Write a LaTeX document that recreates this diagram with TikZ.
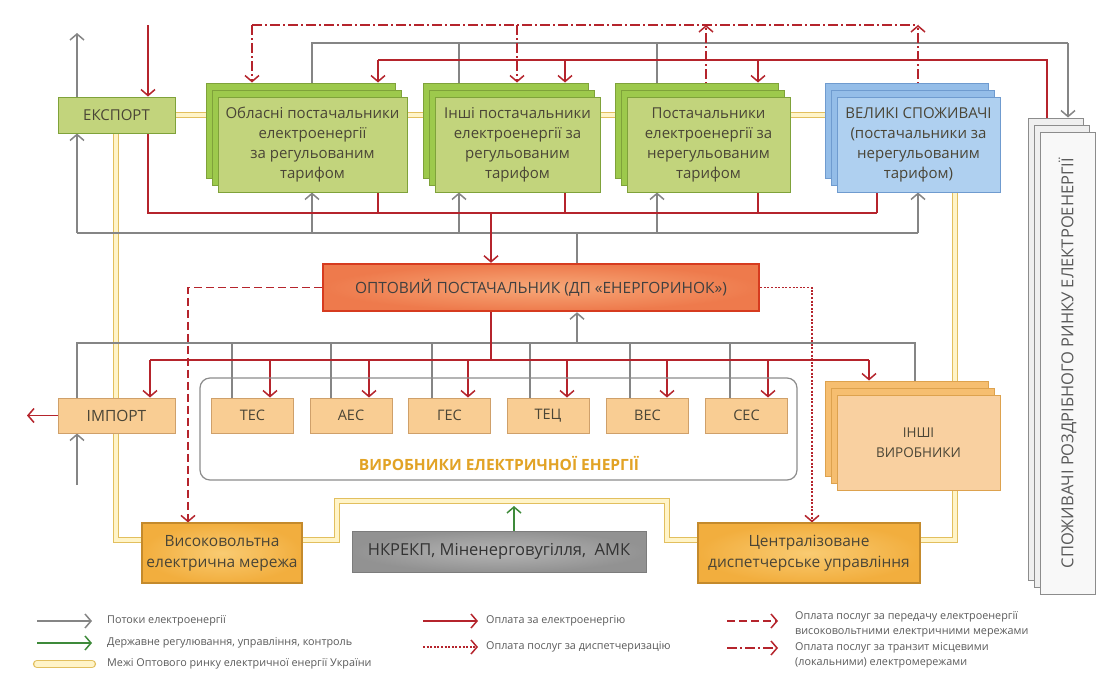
\documentclass[tikz,border=0pt]{standalone}
\usepackage{fontspec}
\setmainfont{Open Sans}
\usetikzlibrary{arrows.meta,calc,shadows,backgrounds}
\definecolor{flowc}{HTML}{858585}
\definecolor{payc}{HTML}{B5242C}
\definecolor{govc}{HTML}{3E8A3A}
\definecolor{gfront}{HTML}{C2D47C}
\definecolor{gback}{HTML}{9DC94C}
\definecolor{gdraw}{HTML}{7FA23A}
\definecolor{bfront}{HTML}{AFD0F0}
\definecolor{bback}{HTML}{94BDE8}
\definecolor{bdraw}{HTML}{6F9BCF}
\definecolor{ofill}{HTML}{F9CD93}
\definecolor{odraw}{HTML}{CFA06A}
\definecolor{ostfront}{HTML}{F9D0A0}
\definecolor{ostback}{HTML}{F6BE70}
\definecolor{ostdraw}{HTML}{DDA24E}
\definecolor{deepin}{HTML}{F9CB72}
\definecolor{deepout}{HTML}{F2AE3E}
\definecolor{deepdraw}{HTML}{C48A2C}
\definecolor{redin}{HTML}{F7A878}
\definecolor{redout}{HTML}{EE7A4C}
\definecolor{redd}{HTML}{D63B1F}
\definecolor{grayin}{HTML}{B5B5B5}
\definecolor{grayout}{HTML}{929292}
\definecolor{graydraw}{HTML}{7C7C7C}
\definecolor{wfront}{HTML}{F8F8F8}
\definecolor{wback}{HTML}{EFEFEF}
\definecolor{wdraw}{HTML}{8C8C8C}
\definecolor{bndo}{HTML}{E2BF5E}
\definecolor{bndi}{HTML}{FFF4C8}
\definecolor{txt}{HTML}{4A4536}
\definecolor{legtxt}{HTML}{5A5A5A}
\definecolor{gold}{HTML}{E2A325}
\tikzset{
  >={Straight Barb[length=6pt,width=14pt]},
  flow/.style={draw=flowc,line width=1.5pt},
  pay/.style={draw=payc,line width=1.5pt},
  gov/.style={draw=govc,line width=1.5pt},
  hvpay/.style={pay,dash pattern=on 8pt off 4pt},
  disppay/.style={pay,dash pattern=on 2pt off 1.6pt},
  tranpay/.style={pay,dash pattern=on 10pt off 3pt on 2pt off 3pt},
  bound/.style={draw=bndo,line width=1.2pt,double=bndi,double distance=3.6pt},
  boxtext/.style={text=txt,align=center,inner sep=2pt,font=\fontsize{15}{20}\selectfont},
  gbox/.style={boxtext,draw=gdraw,fill=gfront,line width=1pt},
  gstack/.style={gbox,
    copy shadow={shadow xshift=-12pt,shadow yshift=14pt,fill=gback,draw=gdraw,line width=1pt},
    copy shadow={shadow xshift=-6pt,shadow yshift=7pt,fill=gback,draw=gdraw,line width=1pt}},
  bstack/.style={boxtext,draw=bdraw,fill=bfront,line width=1pt,
    copy shadow={shadow xshift=-12pt,shadow yshift=14pt,fill=bback,draw=bdraw,line width=1pt},
    copy shadow={shadow xshift=-6pt,shadow yshift=7pt,fill=bback,draw=bdraw,line width=1pt}},
  ostack/.style={boxtext,draw=ostdraw,fill=ostfront,line width=1pt,
    copy shadow={shadow xshift=-12pt,shadow yshift=14pt,fill=ostback,draw=ostdraw,line width=1pt},
    copy shadow={shadow xshift=-6pt,shadow yshift=7pt,fill=ostback,draw=ostdraw,line width=1pt}},
  wstack/.style={draw=wdraw,fill=wfront,line width=1pt,
    copy shadow={shadow xshift=-12pt,shadow yshift=14pt,fill=wback,draw=wdraw,line width=1pt},
    copy shadow={shadow xshift=-6pt,shadow yshift=7pt,fill=wback,draw=wdraw,line width=1pt}},
  obox/.style={boxtext,draw=odraw,fill=ofill,line width=1pt,minimum width=82pt,minimum height=35pt,
    font=\fontsize{14.5}{18}\selectfont},
  optbox/.style={boxtext,text=black!75,draw=redd,line width=2.5pt,inner color=redin,outer color=redout,
    minimum width=436pt,minimum height=47pt,font=\fontsize{15.5}{18}\selectfont},
  deepbox/.style={boxtext,draw=deepdraw,line width=1.2pt,inner color=deepin,outer color=deepout,
    font=\fontsize{15.5}{21}\selectfont},
  govbox/.style={boxtext,text=black!80,draw=graydraw,line width=1pt,inner color=grayin,outer color=grayout,
    font=\fontsize{16.5}{20}\selectfont},
  legtext/.style={text=legtxt,align=left,inner sep=0pt,anchor=west,font=\fontsize{10.8}{15}\selectfont},
}
\begin{document}
\begin{tikzpicture}[x=1pt,y=-1pt]
\useasboundingbox (0,0) rectangle (1098,675);
\foreach \n/\v in {c27/27,c37/37,c77/77,c92/92,c116/116,c148/148,c150/150,c188/188,c232/232,c252/252,c270/270,c312/312,c331/331,c337/337,c369/369,c378/378,c423/423,c432/432,c459/459,c468/468,c478/478,c491/491,c514/514,c517/517,c530/530,c565/565,c567/567,c577/577,c630/630,c657/657,c667/667,c706/706,c727/727,c730/730,c758/758,c768/768,c778/778,c812/812,c869/869,c877/877,c915/915,c918/918,c955/955,c1047/1047,c1068/1068}
  \coordinate (\n) at (\v,0);
\foreach \n/\v in {y25/25,y33/33,y43/43,y60/60,y213/213,y233/233,y343/343,y360/360,y485/485,y501/501,y506/506,y540/540,y621/621,y643/643,y647/647,y648/648,y664/664}
  \coordinate (\n) at (0,\v);

% ---------------- nodes ----------------
\node[gbox,minimum width=117pt,minimum height=36pt] (exp) at (116.5,115) {ЕКСПОРТ};
\node[gstack,minimum width=189pt,minimum height=95pt] (obl) at (312.5,144.5)
  {Обласні постачальники\\електроенергії\\за регульованим\\тарифом};
\node[gstack,minimum width=165pt,minimum height=95pt] (insh) at (517.5,144.5)
  {Інші постачальники\\електроенергії за\\регульованим\\тарифом};
\node[gstack,minimum width=163pt,minimum height=95pt] (post) at (708.5,144.5)
  {Постачальники\\електроенергії за\\нерегульованим\\тарифом};
\node[bstack,minimum width=163pt,minimum height=95pt] (vel) at (918.5,144.5)
  {ВЕЛИКІ СПОЖИВАЧІ\\(постачальники за\\нерегульованим\\тарифом)};
\node[wstack,minimum width=55pt,minimum height=462pt] (spo) at (1067.5,363) {};
\node[boxtext,text=legtxt,rotate=90,font=\fontsize{16.5}{18}\selectfont] (spot) at (spo.center) {СПОЖИВАЧІ РОЗДРІБНОГО РИНКУ ЕЛЕКТРОЕНЕРГІЇ};

\node[optbox] (opt) at (541,287.5) {ОПТОВИЙ ПОСТАЧАЛЬНИК (ДП «ЕНЕРГОРИНОК»)};

\node[draw=wdraw,line width=1.2pt,rounded corners=10pt,minimum width=597pt,minimum height=102pt] (vyr) at (498.5,429) {};
\node[text=gold,font=\fontsize{15.5}{17}\selectfont\bfseries,inner sep=0pt] (vyrt) at (499,463) {ВИРОБНИКИ ЕЛЕКТРИЧНОЇ ЕНЕРГІЇ};

\node[obox,minimum width=117pt,font=\fontsize{15.5}{18}\selectfont] (imp) at (116.5,415.5) {ІМПОРТ};
\node[obox] (tes) at (252.5,415.5) {ТЕС};
\node[obox] (aes) at (351,415.5) {АЕС};
\node[obox] (ges) at (449.5,415.5) {ГЕС};
\node[obox] (tec) at (548,415.5) {ТЕЦ};
\node[obox] (ves) at (647.5,415.5) {ВЕС};
\node[obox] (ses) at (746.5,415.5) {СЕС};
\node[ostack,minimum width=163pt,minimum height=95pt,font=\fontsize{13.5}{19.5}\selectfont] (inv) at (918.5,442.5) {ІНШІ\\ВИРОБНИКИ};

\node[deepbox,minimum width=160pt,minimum height=60pt] (vys) at (222,553) {Високовольтна\\електрична мережа};
\node[govbox,minimum width=294pt,minimum height=41pt] (nkr) at (499,551.5) {НКРЕКП, Міненерговугілля,\ \ АМК};
\node[deepbox,minimum width=222pt,minimum height=60pt] (cen) at (809,553) {Централізоване\\диспетчерське управління};

% helper points on the top edges of the back sheets
\coordinate (oblT) at ($(obl.north)+(0,-14)$);
\coordinate (inshT) at ($(insh.north)+(0,-14)$);
\coordinate (postT) at ($(post.north)+(0,-14)$);
\coordinate (velT) at ($(vel.north)+(0,-14)$);
\coordinate (spoT) at ($(spo.north)+(0,-14)$);
\coordinate (invT) at ($(inv.north)+(0,-14)$);
\coordinate (rIn) at (148,25);
\coordinate (impIn) at (77,485);
\coordinate (impOut) at (27,415.5);

% ---------------- legend ----------------
\draw[flow,->] (c37 |- y621) -- (c92 |- y621);
\node[legtext] (l1) at (107,621) {Потоки електроенергії};
\draw[gov,->] (c37 |- y643) -- (c92 |- y643);
\node[legtext] (l2) at (107,643) {Державне регулювання, управління, контроль};
\draw[bound,line width=1.4pt,double distance=5.5pt,line cap=round] (c37 |- y664) -- (c92 |- y664);
\node[legtext] (l3) at (107,664) {Межі Оптового ринку електричної енергії України};
\draw[pay,->] (c423 |- y621) -- (c478 |- y621);
\node[legtext] (l4) at (486,621) {Оплата за електроенергію};
\draw[disppay,->] (c423 |- y647) -- (c478 |- y647);
\node[legtext] (l5) at (486,647) {Оплата послуг за диспетчеризацію};
\draw[hvpay,->] (c727 |- y621) -- (c778 |- y621);
\node[legtext] (l6) at (795,624.5) {Оплата послуг за передачу електроенергії\\високовольтними електричними мережами};
\draw[tranpay,->] (c727 |- y648) -- (c778 |- y648);
\node[legtext] (l7) at (795,655.5) {Оплата послуг за транзит місцевими\\(локальними) електромережами};

% ---------------- connectors (behind boxes) ----------------
\begin{scope}[on background layer]
\fill[white] (0,0) rectangle (1098,675);
% market boundary
\draw[bound] (exp.east) -- (obl.west |- exp.east);
\draw[bound] (obl.east |- exp.east) -- (insh.west |- exp.east);
\draw[bound] (insh.east |- exp.east) -- (post.west |- exp.east);
\draw[bound] (post.east |- exp.east) -- (vel.west |- exp.east);
\draw[bound] (exp.south -| c116) -- (c116 |- y540) -- (vys.west |- y540);
\draw[bound] (vys.east |- y540) -- (c337 |- y540) -- (c337 |- y501) -- (c667 |- y501) -- (c667 |- y540) -- (cen.west |- y540);
\draw[bound] (cen.east |- y540) -- (c955 |- y540) -- (inv.south -| c955);
\draw[bound] (vel.south -| c955) -- (inv.north -| c955);
% electricity flows
\draw[flow,->] (exp.north -| c77) -- (c77 |- y33);
\draw[flow] (obl.north -| c312) -- (c312 |- y43) -- (c1068 |- y43);
\draw[flow] (insh.north -| c459) -- (c459 |- y43);
\draw[flow] (post.north -| c657) -- (c657 |- y43);
\draw[flow,->] (c1068 |- y43) -- (spoT -| c1068);
\draw[flow] (opt.north -| c577) -- (c577 |- y233);
\draw[flow] (c77 |- y233) -- (c918 |- y233);
\draw[flow,->] (c77 |- y233) -- (exp.south -| c77);
\draw[flow,->] (c312 |- y233) -- (obl.south -| c312);
\draw[flow,->] (c459 |- y233) -- (insh.south -| c459);
\draw[flow,->] (c657 |- y233) -- (post.south -| c657);
\draw[flow,->] (c918 |- y233) -- (vel.south -| c918);
\draw[flow,->] (c577 |- y343) -- (opt.south -| c577);
\draw[flow] (imp.north -| c77) -- (c77 |- y343) -- (c915 |- y343) -- (invT -| c915);
\draw[flow] (tes.north -| c232) -- (c232 |- y343);
\draw[flow] (aes.north -| c331) -- (c331 |- y343);
\draw[flow] (ges.north -| c432) -- (c432 |- y343);
\draw[flow] (tec.north -| c530) -- (c530 |- y343);
\draw[flow] (ves.north -| c630) -- (c630 |- y343);
\draw[flow] (ses.north -| c730) -- (c730 |- y343);
\draw[flow,->] (impIn) -- (imp.south -| impIn);
% payments for electricity
\draw[pay,->] (rIn) -- (exp.north -| rIn);
\draw[pay] (spoT -| c1047) -- (c1047 |- y60) -- (c378 |- y60);
\draw[pay,->] (c378 |- y60) -- (oblT -| c378);
\draw[pay,->] (c565 |- y60) -- (inshT -| c565);
\draw[pay,->] (c758 |- y60) -- (postT -| c758);
\draw[pay] (exp.south -| c148) -- (c148 |- y213) -- (c877 |- y213);
\draw[pay] (obl.south -| c378) -- (c378 |- y213);
\draw[pay] (insh.south -| c565) -- (c565 |- y213);
\draw[pay] (post.south -| c758) -- (c758 |- y213);
\draw[pay] (vel.south -| c877) -- (c877 |- y213);
\draw[pay,->] (c491 |- y213) -- (opt.north -| c491);
\draw[pay] (opt.south -| c491) -- (c491 |- y360);
\draw[pay] (c150 |- y360) -- (c869 |- y360);
\draw[pay,->] (c150 |- y360) -- (imp.north -| c150);
\draw[pay,->] (c270 |- y360) -- (tes.north -| c270);
\draw[pay,->] (c369 |- y360) -- (aes.north -| c369);
\draw[pay,->] (c468 |- y360) -- (ges.north -| c468);
\draw[pay,->] (c567 |- y360) -- (tec.north -| c567);
\draw[pay,->] (c667 |- y360) -- (ves.north -| c667);
\draw[pay,->] (c768 |- y360) -- (ses.north -| c768);
\draw[pay,->] (c869 |- y360) -- (invT -| c869);
\draw[pay,->] (imp.west) -- (impOut);
% transit payments
\draw[tranpay] (c252 |- y25) -- (c918 |- y25);
\draw[tranpay,->] (c252 |- y25) -- (oblT -| c252);
\draw[tranpay,->] (c517 |- y25) -- (inshT -| c517);
\draw[tranpay,->] (post.north -| c706) -- (c706 |- y25);
\draw[tranpay,->] (vel.north -| c918) -- (c918 |- y25);
% high-voltage transmission and dispatching payments
\draw[hvpay,->] (opt.west) -- (c188 |- opt.west) -- (vys.north -| c188);
\draw[disppay,->] (opt.east) -- (c812 |- opt.east) -- (cen.north -| c812);
% state regulation
\draw[gov,->] (nkr.north -| c514) -- (c514 |- y506);
\end{scope}
\end{tikzpicture}
\end{document}
